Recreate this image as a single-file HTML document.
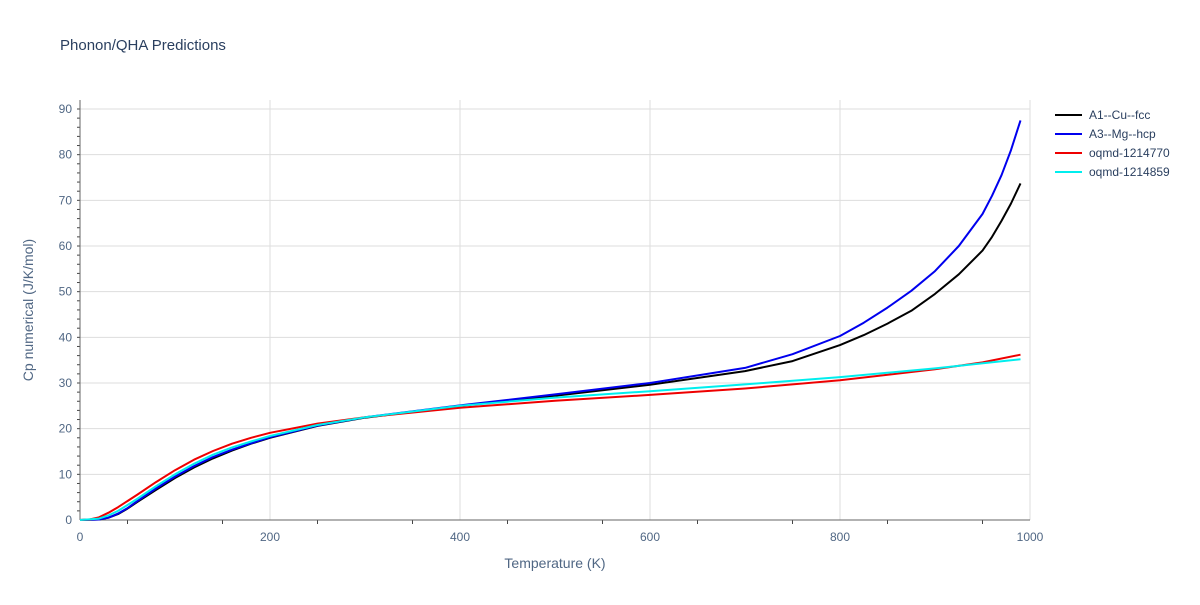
<!DOCTYPE html>
<html><head><meta charset="utf-8"><style>
body{margin:0;background:#fff;}
text{font-family:"Liberation Sans",sans-serif;}
</style></head><body>
<svg id="chart" width="1200" height="600" xmlns="http://www.w3.org/2000/svg">
<text x="60" y="50" font-size="15" fill="#2a3f5f">Phonon/QHA Predictions</text>
<g id="grid"></g>
<g id="axes"></g>
<g id="series"></g>
<g id="legend"></g>
</svg>
<script>
const xTicks=[0,200,400,600,800,1000];
const yTicks=[0,10,20,30,40,50,60,70,80,90];
const seriesNames=["A1--Cu--fcc","A3--Mg--hcp","oqmd-1214770","oqmd-1214859"];
const seriesColors=["#000000","#0000ee","#ee0000","#00eeee"];
const cuT=[0,20,30,40,50,60,80,100,120,140,160,180,200,250,300,400,500,600,700,750,800,825,850,875,900,925,950,960,970,980,990];
const cuCp=[0,0.1,0.5,1.3,2.5,3.9,6.6,9.2,11.5,13.5,15.2,16.7,18,20.6,22.4,25,27.2,29.6,32.6,34.8,38.3,40.5,43,45.8,49.5,53.8,59,62,65.5,69.3,73.7];
const mgT=[0,20,30,40,50,60,80,100,120,140,160,180,200,250,300,400,500,600,700,750,800,825,850,875,900,925,950,960,970,980,990];
const mgCp=[0,0.1,0.5,1.4,2.6,4.1,6.9,9.5,11.8,13.8,15.4,16.8,18.1,20.7,22.5,25.1,27.5,30,33.3,36.3,40.3,43.2,46.5,50.2,54.5,60,67,71,75.5,81,87.5];
const o70T=[0,10,20,30,40,60,80,100,120,140,160,180,200,250,300,400,500,600,700,800,900,950,990];
const o70Cp=[0,0.1,0.6,1.6,2.8,5.5,8.3,10.9,13.2,15.1,16.7,18,19.1,21.1,22.5,24.6,26.1,27.4,28.8,30.6,33,34.5,36.2];
const o59T=[0,20,30,40,60,80,100,120,140,160,180,200,250,300,400,500,600,700,800,900,990];
const o59Cp=[0,0.3,1,2,4.6,7.4,10,12.3,14.3,15.9,17.2,18.4,20.8,22.5,25,26.8,28.2,29.7,31.3,33.2,35.2];
const allT=[cuT,mgT,o70T,o59T], allCp=[cuCp,mgCp,o70Cp,o59Cp];
const L=80,R=1030,T0=520,Y90=109;
const sx=v=>L+(R-L)*v/1000;
const sy=v=>T0-(T0-Y90)*v/90;
const NS="http://www.w3.org/2000/svg";
function mk(tag,attrs,parent){const e=document.createElementNS(NS,tag);for(const k in attrs)e.setAttribute(k,attrs[k]);document.getElementById(parent).appendChild(e);return e;}
xTicks.forEach(t=>{
 if(t>0){const g=mk("line",{x1:sx(t),x2:sx(t),y1:100,y2:T0,stroke:"#ddd"},"grid");
 
 }
 const tx=mk("text",{x:sx(t),y:541,"font-size":12,fill:"#506784","text-anchor":"middle"},"axes");tx.textContent=t;
 
 
});
for(let t=50;t<1000;t+=100){mk("line",{x1:sx(t),x2:sx(t),y1:T0,y2:T0+4,stroke:"#444"},"axes");}
yTicks.forEach(t=>{
 if(t>0){const g=mk("line",{x1:L,x2:R,y1:sy(t),y2:sy(t),stroke:"#ddd"},"grid");
 
 }
 const tx=mk("text",{x:L-8,y:sy(t)+4,"font-size":12,fill:"#506784","text-anchor":"end"},"axes");tx.textContent=t;
 
 
});
for(let t=2;t<92;t+=2){mk("line",{x1:L-3,x2:L,y1:sy(t),y2:sy(t),stroke:"#444"},"axes");}
const xa=mk("line",{x1:L,x2:R,y1:T0,y2:T0,stroke:"#666"},"axes");


const ya=mk("line",{x1:L,x2:L,y1:100,y2:T0,stroke:"#666"},"axes");


const xt=mk("text",{x:555,y:568,"font-size":14,fill:"#506784","text-anchor":"middle"},"axes");xt.textContent="Temperature (K)";


const yt=mk("text",{x:0,y:0,"font-size":14,fill:"#506784","text-anchor":"middle",transform:"translate(33,310) rotate(-90)"},"axes");yt.textContent="Cp numerical (J/K/mol)";


seriesNames.forEach((n,i)=>{
 const d=allT[i].map((t,j)=>(j?"L":"M")+sx(t).toFixed(1)+","+sy(allCp[i][j]).toFixed(1)).join("");
 const p=mk("path",{d:d,fill:"none",stroke:seriesColors[i],"stroke-width":2,"stroke-linejoin":"round"},"series");
 
 
 const y=115+i*19;
 const ll=mk("line",{x1:1055,x2:1082,y1:y,y2:y,stroke:seriesColors[i],"stroke-width":2},"legend");
 
 
 const lt=mk("text",{x:1089,y:y+4,"font-size":12,fill:"#2a3f5f"},"legend");lt.textContent=n;
 
 
});
</script>
</body></html>
